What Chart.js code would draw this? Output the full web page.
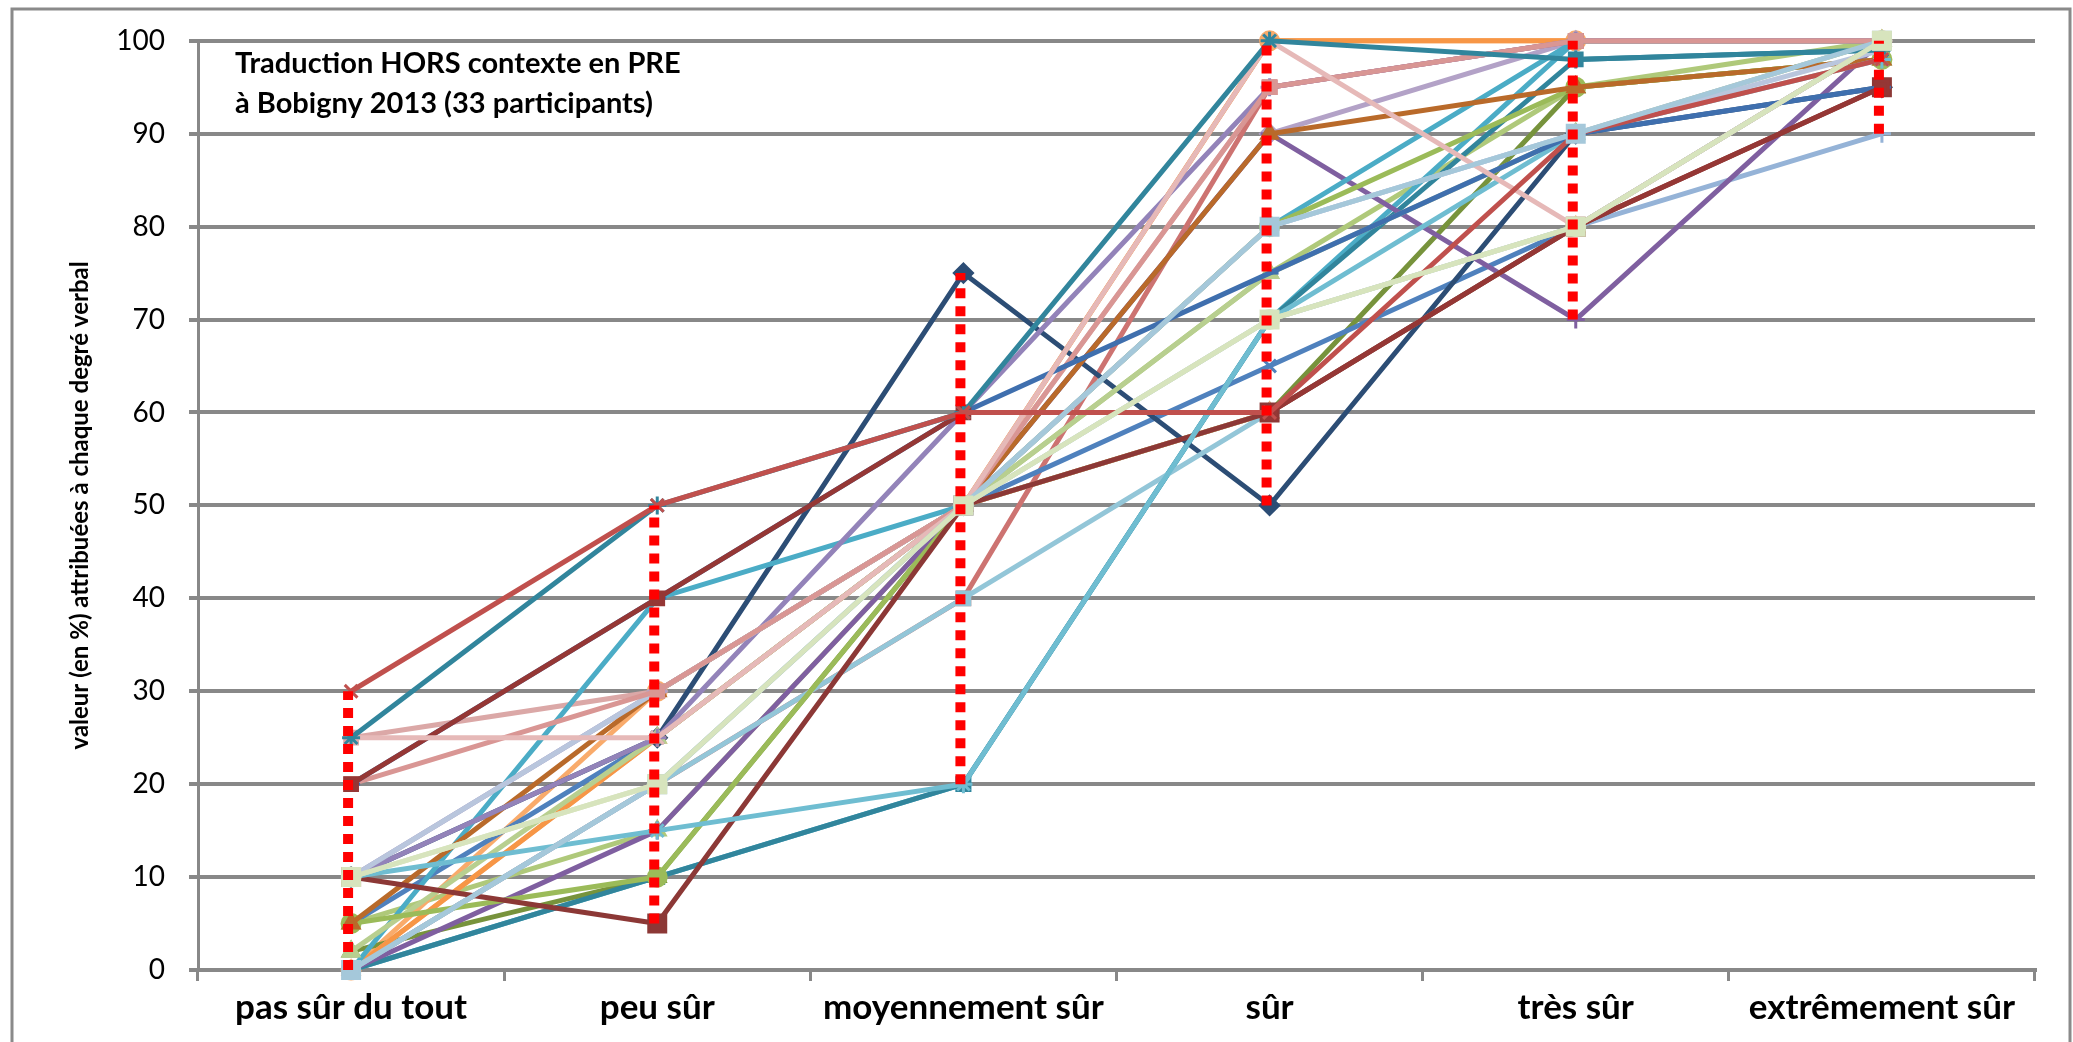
<!DOCTYPE html>
<html>
<head>
<meta charset="utf-8">
<script src="https://cdn.jsdelivr.net/npm/chart.js@4.4.1/dist/chart.umd.min.js"></script>
<style>
  html, body { margin: 0; padding: 0; background: #fff; }
  #wrap { width: 2073px; height: 1042px; }
</style>
</head>
<body>
<div id="wrap"><canvas id="chart" width="2073" height="1042"></canvas></div>
<script>
// categories (degrés verbaux)
const categories = ['pas sûr du tout', 'peu sûr', 'moyennement sûr', 'sûr', 'très sûr', 'extrêmement sûr'];
const yTicks = [0, 10, 20, 30, 40, 50, 60, 70, 80, 90, 100];
const titleLines = ['Traduction HORS contexte en PRE', 'à Bobigny 2013 (33 participants)'];

// one array per participant
const p1  = [30, 50, 60, 60, 90, 98];
const p2  = [25, 50, 60, 100, 98, 99];
const p3  = [25, 25, 50, 100, 80, 100];
const p4  = [20, 40, 60, 60, 80, 95];
const p5  = [20, 40, 60, 75, 90, 95];
const p6  = [20, 30, 50, 95, 100, 100];
const p7  = [10, 30, 50, 80, 90, 99];
const p8  = [10, 25, 60, 95, 100, 100];
const p9  = [10, 20, 50, 70, 80, 100];
const p10 = [10, 15, 20, 70, 90, 98];
const p11 = [10, 5, 50, 60, 80, 95];
const p12 = [5, 30, 50, 90, 95, 98];
const p13 = [5, 10, 50, 80, 95, 98];
const p14 = [2, 25, 50, 75, 90, 100];
const p15 = [0, 40, 50, 80, 100, 100];
const p16 = [0, 25, 50, 100, 100, 100];
const p17 = [0, 20, 40, 60, 80, 100];
const p18 = [0, 15, 50, 90, 70, 100];
const p19 = [0, 10, 20, 70, 98, 99];
const p20 = [10, 25, 75, 50, 90, 95];
const p21 = [5, 25, 50, 65, 80, 100];
const p22 = [0, 25, 50, 60, 80, 100];
const p23 = [0, 20, 50, 70, 80, 90];
const p24 = [0, 20, 40, 95, 100, 100];
const p25 = [2, 10, 50, 60, 95, 98];
const p26 = [10, 30, 50, 90, 100, 100];
const p27 = [0, 30, 50, 100, 100, 100];
const p28 = [25, 30, 50, 95, 100, 100];
const p29 = [0, 10, 20, 70, 100, 100];
const p30 = [5, 15, 50, 75, 95, 100];
const p31 = [10, 20, 50, 70, 80, 100];
const p32 = [0, 20, 50, 80, 90, 100];
const p33 = [10, 30, 50, 80, 90, 100];

const series = [p1, p2, p3, p4, p5, p6, p7, p8, p9, p10, p11, p12, p13, p14, p15, p16, p17,
  p18, p19, p20, p21, p22, p23, p24, p25, p26, p27, p28, p29, p30, p31, p32, p33];

const colors = ['#C0504D', '#31859C', '#E6B9B8', '#953735', '#3F6FAE', '#D99694', '#B9C6DD',
  '#9383B9', '#D7E4BD', '#6FBDD1', '#8C3836', '#B96A2A', '#9BBB59', '#B8CF8F', '#4BACC6',
  '#F79646', '#93C6D8', '#7F5FA0', '#31859C', '#2C4D75', '#4F81BD', '#F4B183', '#95B3D7',
  '#CD7371', '#77933C', '#B3A2C7', '#F9AB6B', '#DBA8A7', '#4BACC6', '#AFC97A', '#D7E4BD',
  '#A5C8DA', '#C3CDE6'];
const markers = ['crossRot', 'star', 'crossRot', 'rect', 'dash', 'rect', 'crossRot', 'star',
  'circle', 'star', 'rect', 'triangle', 'circle', 'triangle', 'dash', 'star', 'rect', 'cross',
  'rect', 'rectRot', 'crossRot', 'triangle', 'cross', 'rect', 'triangle', 'rectRot', 'circle',
  'rect', 'rect', 'triangle', 'rect', 'rect', 'crossRot'];
const bigMarkers = [10, 30, 31];
const onTop = [30, 31];

const datasets = series.map((d, i) => ({
  label: 'P' + (i + 1),
  data: d,
  borderColor: colors[i],
  backgroundColor: colors[i],
  borderWidth: 5,
  pointStyle: markers[i],
  pointRadius: bigMarkers.includes(i) ? 12 : 9,
  pointBorderWidth: 3,
  order: onTop.includes(i) ? -1 : 0,
  tension: 0,
  clip: false
}));

// white background + outer frame
const framePlugin = {
  id: 'frame',
  beforeDraw(chart) {
    const ctx = chart.ctx;
    ctx.save();
    ctx.fillStyle = '#fff';
    ctx.fillRect(0, 0, chart.width, chart.height);
    ctx.strokeStyle = '#8a8a8a';
    ctx.lineWidth = 3;
    ctx.strokeRect(12, 9, 2058, 1050);
    ctx.restore();
  }
};

// red dotted min-max line at each category
const rangePlugin = {
  id: 'ranges',
  afterDatasetsDraw(chart) {
    const { ctx, scales: { x, y } } = chart;
    ctx.save();
    ctx.strokeStyle = '#FF0000';
    ctx.lineWidth = 10;
    ctx.setLineDash([10, 8]);
    categories.forEach((c, i) => {
      const vals = chart.data.datasets.map(ds => ds.data[i]);
      const lo = Math.min(...vals), hi = Math.max(...vals);
      const px = x.getPixelForValue(i) - 3;
      ctx.beginPath();
      ctx.moveTo(px, y.getPixelForValue(lo));
      ctx.lineTo(px, y.getPixelForValue(hi));
      ctx.stroke();
    });
    ctx.restore();
  }
};

// title box inside the plot
const titlePlugin = {
  id: 'inTitle',
  afterDraw(chart) {
    const ctx = chart.ctx;
    ctx.save();
    ctx.fillStyle = '#000';
    ctx.font = 'bold 29px Lato';
    ctx.textBaseline = 'middle';
    const x0 = chart.chartArea.left + 37;
    titleLines.forEach((t, i) => ctx.fillText(t, x0, 64 + i * 40));
    ctx.restore();
  }
};

new Chart(document.getElementById('chart'), {
  type: 'line',
  data: { labels: categories, datasets: datasets },
  plugins: [framePlugin, rangePlugin, titlePlugin],
  options: {
    responsive: false,
    animation: false,
    devicePixelRatio: 1,
    layout: { padding: { top: 38, right: 38, left: 0, bottom: 0 } },
    plugins: { legend: { display: false }, tooltip: { enabled: false } },
    scales: {
      x: {
        type: 'category',
        offset: true,
        grid: { offset: true, drawOnChartArea: false, drawTicks: true, tickLength: 11, color: '#888', lineWidth: 3 },
        border: { color: '#888', width: 4 },
        ticks: { color: '#000', font: { family: 'Lato', size: 35, weight: 'bold' }, padding: 6, maxRotation: 0 },
        afterFit(scale) { scale.height = 72; }
      },
      y: {
        min: 0,
        max: 100,
        afterBuildTicks(scale) { scale.ticks = yTicks.map(v => ({ value: v })); },
        ticks: { color: '#000', font: { family: 'Lato', size: 28 }, padding: 24 },
        grid: { color: '#888', lineWidth: 4, tickLength: 9 },
        border: { color: '#888', width: 3 },
        title: {
          display: true,
          text: 'valeur (en %) attribuées à chaque degré verbal',
          color: '#000',
          font: { family: 'Lato', size: 24, weight: 'bold' },
          padding: { top: 66, bottom: 0 }
        },
        afterFit(scale) { scale.width = 198; }
      }
    }
  }
});
</script>
</body>
</html>
